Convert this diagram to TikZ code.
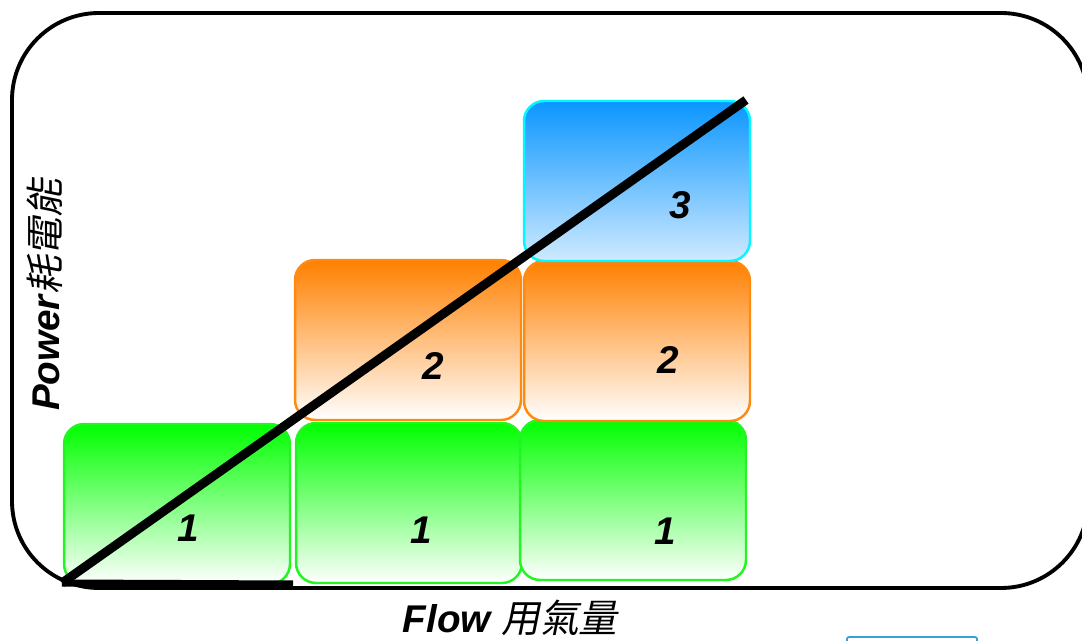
\documentclass[tikz,border=0pt]{standalone}
\usepackage{fontspec}
\setmainfont{Liberation Sans}
\newfontfamily\cjk{Noto Sans CJK TC}[FakeSlant=0.2]
\usepackage{tikz}
\usetikzlibrary{positioning}
\definecolor{gtop}{HTML}{00FF00}
\definecolor{gline}{HTML}{22F522}
\definecolor{otop}{HTML}{FF8000}
\definecolor{oline}{HTML}{FF8A10}
\definecolor{btop}{HTML}{0A96FF}
\definecolor{bbot}{HTML}{CFEAFF}
\definecolor{bline}{HTML}{00F8FF}
\definecolor{tabline}{HTML}{35A0DC}
\tikzset{
  frm/.style={draw=black,line width=2.2pt,rounded corners=1.74cm},
  bx/.style={rectangle,rounded corners=.4cm,line width=1.4pt,inner sep=0pt,
    minimum width=4.52cm,minimum height=3.2cm},
  gbx/.style={bx,draw=gline,top color=gtop,bottom color=white},
  obx/.style={bx,draw=oline,top color=otop,bottom color=white},
  bbx/.style={bx,draw=bline,top color=btop,bottom color=bbot},
  num/.style={font=\fontsize{22}{26}\selectfont\bfseries\itshape},
  axl/.style={font=\fontsize{22}{26}\selectfont},
  dia/.style={draw=black,line width=5.1pt},
  axbar/.style={draw=black,line width=4pt},
}

\begin{document}
\begin{tikzpicture}[x=0.02cm,y=-0.02cm]
\useasboundingbox (0,0) rectangle (1082,641);
\clip (0,0) rectangle (1082,641);
% outer frame, runs off the right edge
\draw[frm] (12,13) rectangle (1088,588);
% bottom row
\node[gbx] (g1) at (177,504) {};
\node[gbx] (g2) at (409,503) {};
\node[gbx] (g3) at (633,500) {};
% second and third rows
\node[obx] (o1) at (408,340) {};
\node[obx] (o2) at (637,341) {};
\node[bbx] (b1) at (637,181) {};
% stage numbers
\node[num] (n1) at (188,528) {1};
\node[num] (n2) at (421,530) {1};
\node[num] (n3) at (665,531) {1};
\node[num] (n4) at (433,366) {2};
\node[num] (n5) at (668,360) {2};
\node[num] (n6) at (680,205) {3};
% axis names
\node[axl,rotate=90] (pw) at (45,295) {\bfseries\itshape Power{\cjk\mdseries\upshape 耗電能}};
\node[axl] (fl) at (510,618) {\bfseries\itshape Flow {\cjk\mdseries\upshape 用氣量}};
% tab peeking in at the bottom
\draw[draw=tabline,line width=1pt,rounded corners=.04cm] (847,637) rectangle (977,690);
% base bar and the rising line
\coordinate (O) at (62,583);
\coordinate (X) at (293,584);
\coordinate (T) at (746,100);
\draw[axbar] (O) -- (X);
\draw[dia] (O) -- (T);
\end{tikzpicture}
\end{document}
